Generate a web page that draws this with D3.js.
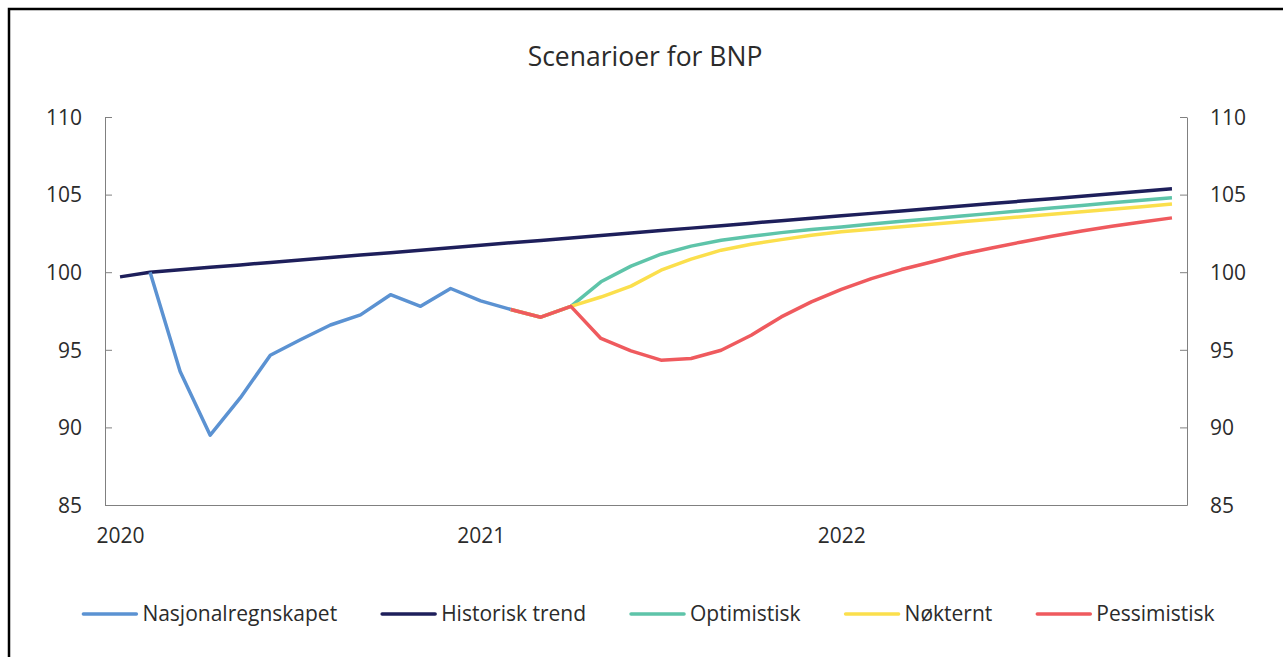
<!DOCTYPE html>
<html>
<head>
<meta charset="utf-8">
<script src="https://cdn.jsdelivr.net/npm/d3@7"></script>
<style>
  body { margin: 0; background: #fff; }
  svg { display: block; font-family: "Open Sans", sans-serif; }
  .axis path, .axis line { stroke: #808080; }
  .axis text { fill: #2b2b2b; font-size: 21px; font-family: "Open Sans", sans-serif; }
</style>
</head>
<body>
<div id="chart"></div>
<script>
// month index 0 = Jan 2020, 35 = Dec 2022
const years = ["2020", "2021", "2022"];
const yearMonths = [0, 12, 24];
const yTicks = [85, 90, 95, 100, 105, 110];

const trend = [99.7, 100.0, 100.16, 100.32, 100.47, 100.63, 100.79, 100.95, 101.11, 101.26,
  101.42, 101.58, 101.74, 101.9, 102.05, 102.21, 102.37, 102.53, 102.69, 102.84,
  103.0, 103.16, 103.32, 103.48, 103.63, 103.79, 103.95, 104.11, 104.27, 104.42,
  104.58, 104.74, 104.9, 105.06, 105.21, 105.37];

// starts at month 1
const nasjonal = [100.0, 93.6, 89.5, 91.9, 94.65, 95.65, 96.6, 97.25, 98.55, 97.8, 98.95, 98.15, 97.6];

// scenarios start at month 13
const optimistisk = [97.6, 97.1, 97.8, 99.38, 100.39, 101.16, 101.68, 102.06, 102.32, 102.55,
  102.75, 102.92, 103.1, 103.28, 103.45, 103.62, 103.79, 103.96, 104.13, 104.3, 104.47, 104.64, 104.8];
const nokternt = [97.6, 97.1, 97.8, 98.4, 99.1, 100.13, 100.84, 101.42, 101.8, 102.1,
  102.38, 102.6, 102.77, 102.93, 103.09, 103.25, 103.41, 103.57, 103.73, 103.89, 104.05, 104.22, 104.4];
const pessimistisk = [97.6, 97.1, 97.8, 95.73, 94.93, 94.33, 94.44, 94.97, 95.94, 97.12,
  98.09, 98.89, 99.59, 100.17, 100.66, 101.16, 101.56, 101.95, 102.32, 102.66, 102.96, 103.24, 103.5];

const series = [
  {name: "Nasjonalregnskapet", values: nasjonal, start: 1, color: "#5b92d2"},
  {name: "Historisk trend", values: trend, start: 0, color: "#1e1f5b"},
  {name: "Optimistisk", values: optimistisk, start: 13, color: "#5ec4a9"},
  {name: "Nøkternt", values: nokternt, start: 13, color: "#fbdf4c"},
  {name: "Pessimistisk", values: pessimistisk, start: 13, color: "#ef5a5e"}
];
// draw order: trend, blue, green, yellow, red on top
const drawOrder = [1, 0, 2, 3, 4];

const W = 1283, H = 657;
const margin = {top: 117, right: 96, bottom: 152, left: 105},
    width = W - margin.left - margin.right,
    height = H - margin.top - margin.bottom;

let root = d3.select("#chart").append("svg")
    .attr("width", W)
    .attr("height", H);

// frame (top + left)
root.append("path")
    .attr("d", "M9,657 V9 H1283")
    .attr("fill", "none")
    .attr("stroke", "#000")
    .attr("stroke-width", 2.5);

root.append("text")
    .attr("x", 645)
    .attr("y", 66)
    .attr("text-anchor", "middle")
    .style("font-size", "26.5px")
    .style("fill", "#2b2b2b")
    .text("Scenarioer for BNP");

let svg = root.append("g")
    .attr("transform", "translate(" + margin.left + "," + margin.top + ")");

let x = d3.scaleLinear().domain([-0.5, 35.5]).range([0, width]);
let y = d3.scaleLinear().domain([85, 110]).range([height, 0]);

// left axis
svg.append("g")
    .attr("class", "axis")
    .call(d3.axisLeft(y).tickValues(yTicks).tickSizeInner(-7).tickSizeOuter(0).tickPadding(23))
    .call(g => g.selectAll("text").attr("dy", "0.35em"));

// right axis
svg.append("g")
    .attr("class", "axis")
    .attr("transform", "translate(" + width + ",0)")
    .call(d3.axisRight(y).tickValues(yTicks).tickSizeInner(-7).tickSizeOuter(0).tickPadding(23))
    .call(g => g.selectAll("text").attr("dy", "0.35em"));

// bottom axis
svg.append("g")
    .attr("class", "axis")
    .attr("transform", "translate(0," + height + ")")
    .call(d3.axisBottom(x).tickValues(yearMonths).tickFormat((d, i) => years[i])
        .tickSizeInner(0).tickSizeOuter(0).tickPadding(23));

let line = d3.line()
    .x(d => x(d.m))
    .y(d => y(d.v));

drawOrder.forEach(i => {
    let s = series[i];
    let pts = s.values.map((v, j) => ({m: s.start + j, v: v}));
    svg.append("path")
        .datum(pts)
        .attr("fill", "none")
        .attr("stroke", s.color)
        .attr("stroke-width", 3.5)
        .attr("stroke-linejoin", "round")
        .attr("d", line);
});

// legend
let legend = root.append("g").attr("transform", "translate(0,614)");
let items = legend.selectAll("g")
    .data(series)
    .enter()
    .append("g");

items.append("line")
    .attr("x1", 0).attr("x2", 53)
    .attr("y1", 0).attr("y2", 0)
    .attr("stroke", d => d.color)
    .attr("stroke-width", 3.5)
    .attr("stroke-linecap", "round");

items.append("text")
    .attr("x", 59)
    .attr("dy", "0.35em")
    .style("font-size", "21px")
    .style("fill", "#2b2b2b")
    .text(d => d.name);

let gap = 45;
let widths = [];
items.each(function() { widths.push(this.getBBox().width); });
let total = d3.sum(widths) + gap * (widths.length - 1);
let pos = 649 - total / 2;
items.each(function(d, i) {
    d3.select(this).attr("transform", "translate(" + pos + ",0)");
    pos += widths[i] + gap;
});
</script>
</body>
</html>
